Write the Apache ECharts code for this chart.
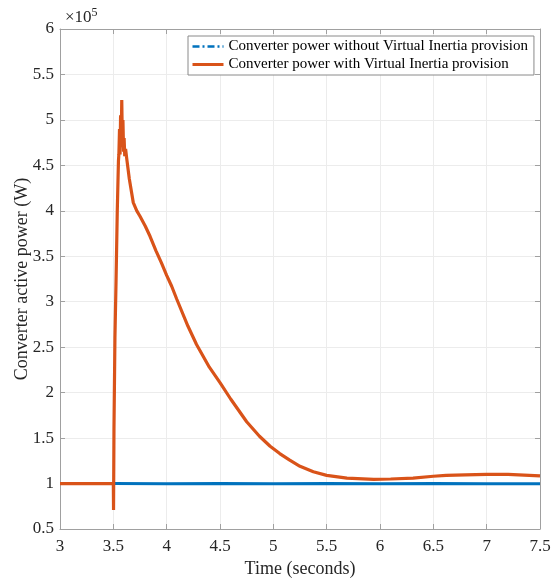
<!DOCTYPE html>
<html>
<head>
<meta charset="utf-8">
<script src="https://cdn.jsdelivr.net/npm/echarts@6/dist/echarts.min.js"></script>
<style>
  html, body { margin: 0; padding: 0; background: #fff; }
  #chart { width: 560px; height: 578px; }
</style>
</head>
<body>
<div id="chart"></div>
<script>
// values in units of 1e5 W
var names = ['Converter power without Virtual Inertia provision', 'Converter power with Virtual Inertia provision'];

var noInertia = [
  [3, 1.0], [3.5, 1.0], [4, 0.998], [4.5, 1.0], [5, 0.998], [5.5, 1.0],
  [6, 0.998], [6.5, 1.0], [7, 0.998], [7.5, 0.998]
];

var withInertia = [
  [3, 1.0], [3.5, 1.0], [3.502, 0.71], [3.506, 1.6], [3.515, 2.6], [3.525, 3.2],
  [3.537, 4.0], [3.548, 4.55],
  [3.552, 4.62], [3.558, 4.9], [3.563, 4.62], [3.568, 5.05], [3.573, 4.7],
  [3.579, 5.22], [3.585, 4.72], [3.59, 5.0], [3.596, 4.65], [3.601, 4.8],
  [3.607, 4.6], [3.615, 4.68], [3.625, 4.58],
  [3.65, 4.35], [3.687, 4.09], [3.72, 4.0], [3.75, 3.94], [3.8, 3.83],
  [3.844, 3.72], [3.9, 3.56], [3.95, 3.43], [4.0, 3.29], [4.047, 3.17],
  [4.094, 3.03], [4.2, 2.73], [4.28, 2.53], [4.4, 2.28], [4.5, 2.11],
  [4.6, 1.93], [4.75, 1.68], [4.87, 1.52], [4.97, 1.41], [5.06, 1.33],
  [5.15, 1.26], [5.25, 1.19], [5.375, 1.13], [5.5, 1.09], [5.69, 1.06],
  [5.94, 1.045], [6.1, 1.05], [6.31, 1.06], [6.5, 1.08], [6.62, 1.09],
  [6.8, 1.095], [7.0, 1.1], [7.2, 1.1], [7.5, 1.085]
];

var serif = 'Liberation Serif';
var axisGray = '#a0a0a0';
var textDark = '#262626';

var chart = echarts.init(document.getElementById('chart'));
chart.setOption({
  animation: false,
  backgroundColor: '#fff',
  textStyle: { fontFamily: serif },
  title: {
    text: '{a|×10}{b|5}',
    left: 60,
    top: 2,
    textStyle: {
      fontWeight: 'normal',
      rich: {
        a: { fontFamily: serif, fontSize: 17, fontWeight: 'normal', color: textDark },
        b: { fontFamily: serif, fontSize: 12, fontWeight: 'normal', color: textDark, padding: [0, 0, 9, 0] }
      }
    }
  },
  legend: {
    orient: 'vertical',
    left: 188,
    top: 36,
    padding: [3, 6, 3, 3],
    itemGap: 3,
    itemWidth: 31,
    itemHeight: 12,
    borderColor: '#8a8a8a',
    borderWidth: 1,
    backgroundColor: '#fff',
    textStyle: { fontFamily: serif, fontSize: 15, color: '#000' },
    data: [
      { name: names[0], itemStyle: { opacity: 0 }, lineStyle: { type: [7, 3, 2, 3], width: 2.5 } },
      { name: names[1], itemStyle: { opacity: 0 }, lineStyle: { width: 3 } }
    ]
  },
  grid: { left: 60, right: 20, top: 29, bottom: 49, outerBoundsMode: 'none' },
  xAxis: [{
    type: 'value',
    min: 3, max: 7.5, interval: 0.5,
    name: 'Time (seconds)',
    nameLocation: 'middle',
    nameGap: 31,
    nameMoveOverlap: false,
    nameTextStyle: { fontFamily: serif, fontSize: 18, color: textDark },
    axisLine: { show: true, onZero: false, lineStyle: { color: axisGray } },
    axisTick: { show: true, inside: true, length: 5, lineStyle: { color: axisGray } },
    axisLabel: { fontFamily: serif, fontSize: 17, color: textDark, margin: 9 },
    splitLine: { show: true, lineStyle: { color: '#ececec' } }
  }, {
    type: 'value',
    position: 'top',
    min: 3, max: 7.5, interval: 0.5,
    axisLine: { show: true, onZero: false, lineStyle: { color: axisGray } },
    axisTick: { show: true, inside: true, length: 5, lineStyle: { color: axisGray } },
    axisLabel: { show: false },
    splitLine: { show: false }
  }],
  yAxis: [{
    type: 'value',
    min: 0.5, max: 6, interval: 0.5,
    name: 'Converter active power (W)',
    nameLocation: 'middle',
    nameGap: 29,
    nameMoveOverlap: false,
    nameTextStyle: { fontFamily: serif, fontSize: 18, color: textDark },
    axisLine: { show: true, onZero: false, lineStyle: { color: axisGray } },
    axisTick: { show: true, inside: true, length: 5, lineStyle: { color: axisGray } },
    axisLabel: { fontFamily: serif, fontSize: 17, color: textDark, margin: 6 },
    splitLine: { show: true, lineStyle: { color: '#ececec' } }
  }, {
    type: 'value',
    position: 'right',
    min: 0.5, max: 6, interval: 0.5,
    axisLine: { show: true, onZero: false, lineStyle: { color: axisGray } },
    axisTick: { show: true, inside: true, length: 5, lineStyle: { color: axisGray } },
    axisLabel: { show: false },
    splitLine: { show: false }
  }],
  series: [{
    name: names[0],
    type: 'line',
    data: noInertia,
    symbol: 'none',
    color: '#0072BD',
    lineStyle: { width: 3, color: '#0072BD' },
    z: 2
  }, {
    name: names[1],
    type: 'line',
    data: withInertia,
    symbol: 'none',
    color: '#D95319',
    lineStyle: { width: 3.2, color: '#D95319' },
    z: 3
  }]
});
</script>
</body>
</html>
